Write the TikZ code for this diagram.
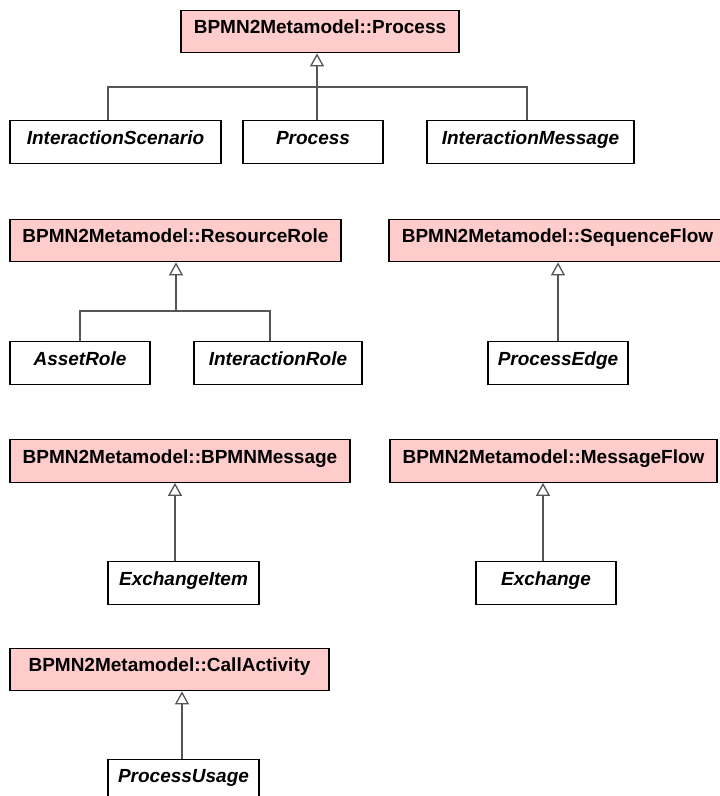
\documentclass[tikz,border=0pt]{standalone}
\usepackage{fontspec}
\setmainfont{Liberation Sans}
\usetikzlibrary{arrows.meta}
\definecolor{basepink}{HTML}{FFCCCC}
\definecolor{linkgray}{HTML}{555555}
\begin{document}
\begin{tikzpicture}[x=1pt, y=-1pt,
        base/.style={draw, fill=basepink, line width=1.3pt, minimum height=42.5pt, inner sep=0pt,
            text height=14pt, text depth=9.5pt, font=\fontsize{19}{22}\selectfont\bfseries},
        sub/.style={base, fill=white, font=\fontsize{19}{22}\selectfont\bfseries\itshape},
        gen/.style={draw=linkgray, line width=1.3pt},
        genarrow/.style={gen, -{Triangle[open, length=13pt, width=14pt]}}]
    \useasboundingbox (0,0) rectangle (720,796);

    % 父类
    \node[base, minimum width=278pt] (procBase) at (320,31.5) {BPMN2Metamodel::Process};
    \node[base, minimum width=331pt] (resBase) at (175.5,240.5) {BPMN2Metamodel::ResourceRole};
    \node[base, minimum width=337pt] (seqBase) at (557.5,240.5) {BPMN2Metamodel::SequenceFlow};
    \node[base, minimum width=340pt] (msgBase) at (180,461) {BPMN2Metamodel::BPMNMessage};
    \node[base, minimum width=327pt] (flowBase) at (553.5,461) {BPMN2Metamodel::MessageFlow};
    \node[base, minimum width=319pt] (callBase) at (169.5,669.5) {BPMN2Metamodel::CallActivity};

    % 子类
    \node[sub, minimum width=211pt] (iscen) at (115.5,142) {InteractionScenario};
    \node[sub, minimum width=140pt] (proc) at (313,142) {Process};
    \node[sub, minimum width=207pt] (imsg) at (530.5,142) {InteractionMessage};
    \node[sub, minimum width=140pt] (asset) at (80,363) {AssetRole};
    \node[sub, minimum width=168pt] (interR) at (278,363) {InteractionRole};
    \node[sub, minimum width=140pt] (procEdge) at (558,363) {ProcessEdge};
    \node[sub, minimum width=151pt] (exItem) at (183.5,583) {ExchangeItem};
    \node[sub, minimum width=140pt] (exch) at (546,583) {Exchange};
    \node[sub, minimum width=151pt] (procUse) at (183.5,780.5) {ProcessUsage};

    % 泛化关系
    \coordinate (j1) at (317,87);
    \coordinate (j1l) at (108,87);
    \coordinate (j1r) at (527,87);
    \draw[gen] (j1l |- iscen.north) -- (j1l) -- (j1r) -- (j1r |- imsg.north);
    \draw[gen] (j1 |- proc.north) -- (j1);
    \draw[genarrow] (j1) -- (j1 |- procBase.south);

    \coordinate (j2) at (176,311);
    \coordinate (j2r) at (270,311);
    \draw[gen] (asset.north) |- (j2r) -- (j2r |- interR.north);
    \draw[genarrow] (j2) -- (j2 |- resBase.south);

    \draw[genarrow] (procEdge.north) -- (procEdge.north |- seqBase.south);
    \draw[genarrow] ([xshift=-8.5pt]exItem.north) -- ([xshift=-8.5pt]exItem.north |- msgBase.south);
    \draw[genarrow] ([xshift=-3pt]exch.north) -- ([xshift=-3pt]exch.north |- flowBase.south);
    \draw[genarrow] ([xshift=-1.5pt]procUse.north) -- ([xshift=-1.5pt]procUse.north |- callBase.south);
\end{tikzpicture}
\end{document}
